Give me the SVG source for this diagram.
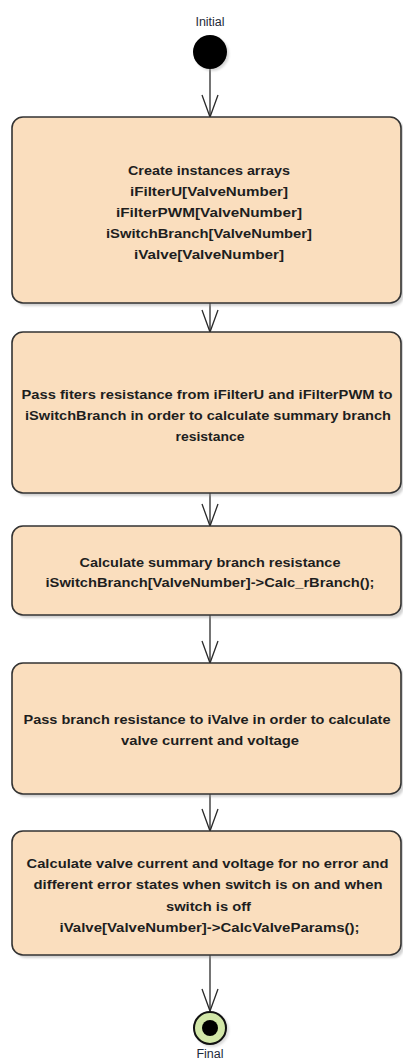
<svg xmlns="http://www.w3.org/2000/svg" width="403" height="1059" viewBox="0 0 403 1059">
  <style>
    .box { fill: #fadebe; stroke: #333333; stroke-width: 1.6; }
    .shadow { fill: #9a9a9a; opacity: 0.45; filter: url(#soft); }
    .txt { font-family: "Liberation Sans", Arial, sans-serif; font-weight: bold; font-size: 12.5px; fill: #1e1e1e; text-anchor: middle; }
    .lbl { font-family: "Liberation Sans", Arial, sans-serif; font-size: 12.5px; fill: #1e2a3a; text-anchor: middle; }
    .flow { stroke: #2a2a2a; stroke-width: 1.3; fill: none; marker-end: url(#open); }
  </style>
  <defs>
    <filter id="soft" x="-10%" y="-10%" width="120%" height="120%">
      <feGaussianBlur stdDeviation="1.2"/>
    </filter>
    <marker id="open" markerUnits="userSpaceOnUse" viewBox="-24 -10 26 20" refX="0" refY="0" markerWidth="26" markerHeight="20" orient="auto">
      <path d="M-22,-8 L0,0 L-22,8" fill="none" stroke="#2a2a2a" stroke-width="1.3"/>
    </marker>
  </defs>

  <rect width="403" height="1059" fill="#ffffff"/>

  <!-- connectors -->
  <g id="connectors">
    <line class="flow" x1="210" y1="69" x2="210" y2="117"/>
    <line class="flow" x1="210" y1="303" x2="210" y2="332"/>
    <line class="flow" x1="210" y1="493" x2="210" y2="526"/>
    <line class="flow" x1="210" y1="615" x2="210" y2="663"/>
    <line class="flow" x1="210" y1="794" x2="210" y2="831"/>
    <line class="flow" x1="210" y1="955" x2="210" y2="1011"/>
  </g>

  <!-- start node -->
  <g id="initial">
    <text class="lbl" x="210" y="26">Initial</text>
    <circle cx="212" cy="54" r="17" fill="#9a9a9a" opacity="0.4" filter="url(#soft)"/>
    <circle cx="210" cy="52" r="17" fill="#000000"/>
  </g>

  <!-- actions -->
  <g id="create-instances">
    <rect class="shadow" x="15" y="120" width="389" height="186" rx="11"/>
    <rect class="box" x="12" y="117" width="389" height="186" rx="11"/>
    <text class="txt" x="209" y="175" textLength="162" lengthAdjust="spacingAndGlyphs">Create instances arrays</text>
    <text class="txt" x="209" y="196" textLength="158" lengthAdjust="spacingAndGlyphs">iFilterU[ValveNumber]</text>
    <text class="txt" x="209" y="217" textLength="186" lengthAdjust="spacingAndGlyphs">iFilterPWM[ValveNumber]</text>
    <text class="txt" x="209" y="238" textLength="206" lengthAdjust="spacingAndGlyphs">iSwitchBranch[ValveNumber]</text>
    <text class="txt" x="209" y="259" textLength="150" lengthAdjust="spacingAndGlyphs">iValve[ValveNumber]</text>
  </g>

  <g id="pass-filters">
    <rect class="shadow" x="15" y="335" width="389" height="161" rx="11"/>
    <rect class="box" x="12" y="332" width="389" height="161" rx="11"/>
    <text class="txt" x="207" y="399" textLength="371" lengthAdjust="spacingAndGlyphs">Pass fiters resistance from iFilterU and iFilterPWM to</text>
    <text class="txt" x="208" y="420" textLength="366" lengthAdjust="spacingAndGlyphs">iSwitchBranch in order to calculate summary branch</text>
    <text class="txt" x="210" y="441" textLength="69" lengthAdjust="spacingAndGlyphs">resistance</text>
  </g>

  <g id="calc-branch">
    <rect class="shadow" x="15" y="529" width="389" height="89" rx="11"/>
    <rect class="box" x="12" y="526" width="389" height="89" rx="11"/>
    <text class="txt" x="210" y="567" textLength="261" lengthAdjust="spacingAndGlyphs">Calculate summary branch resistance</text>
    <text class="txt" x="210" y="587" textLength="329" lengthAdjust="spacingAndGlyphs">iSwitchBranch[ValveNumber]-&gt;Calc_rBranch();</text>
  </g>

  <g id="pass-branch">
    <rect class="shadow" x="15" y="666" width="389" height="131" rx="11"/>
    <rect class="box" x="12" y="663" width="389" height="131" rx="11"/>
    <text class="txt" x="207" y="724" textLength="367" lengthAdjust="spacingAndGlyphs">Pass branch resistance to iValve in order to calculate</text>
    <text class="txt" x="210" y="745" textLength="178" lengthAdjust="spacingAndGlyphs">valve current and voltage</text>
  </g>

  <g id="calc-valve">
    <rect class="shadow" x="15" y="834" width="389" height="124" rx="11"/>
    <rect class="box" x="12" y="831" width="389" height="124" rx="11"/>
    <text class="txt" x="207.5" y="868" textLength="362" lengthAdjust="spacingAndGlyphs">Calculate valve current and voltage for no error and</text>
    <text class="txt" x="208" y="889" textLength="349" lengthAdjust="spacingAndGlyphs">different error states when switch is on and when</text>
    <text class="txt" x="208.5" y="911" textLength="85" lengthAdjust="spacingAndGlyphs">switch is off</text>
    <text class="txt" x="209.5" y="932" textLength="300" lengthAdjust="spacingAndGlyphs">iValve[ValveNumber]-&gt;CalcValveParams();</text>
  </g>

  <!-- end node -->
  <g id="final">
    <circle cx="212" cy="1030" r="17" fill="#9a9a9a" opacity="0.35" filter="url(#soft)"/>
    <circle cx="210" cy="1028" r="16" fill="#d2e7a8" stroke="#111111" stroke-width="2"/>
    <circle cx="210" cy="1028" r="8" fill="#000000"/>
    <text class="lbl" x="210" y="1058">Final</text>
  </g>
</svg>
